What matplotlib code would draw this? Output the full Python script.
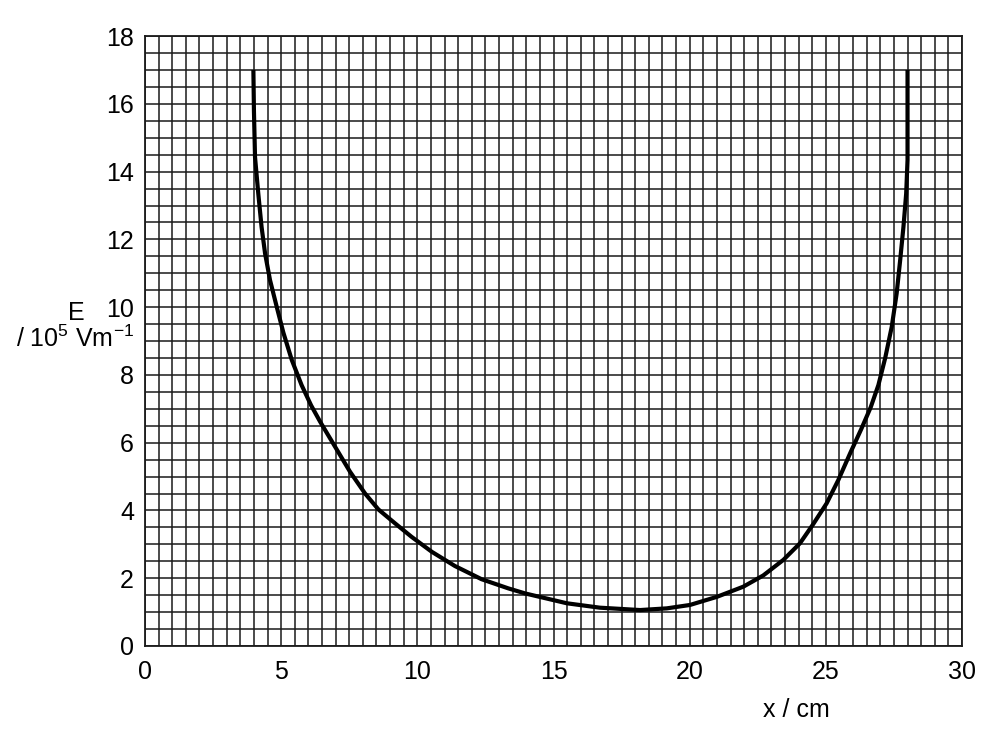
import matplotlib
matplotlib.use("Agg")
import matplotlib.pyplot as plt
import numpy as np

plt.rcParams['font.family'] = ['Liberation Sans', 'DejaVu Sans']
plt.rcParams['mathtext.fontset'] = 'custom'
plt.rcParams['mathtext.rm'] = 'Liberation Sans'
plt.rcParams['mathtext.it'] = 'Liberation Sans'
plt.rcParams['mathtext.bf'] = 'Liberation Sans'

x_cm = [3.98, 4.0, 4.04, 4.16, 4.28, 4.41, 4.59, 4.84, 5.08, 5.39, 5.75, 6.1,
        6.43, 6.98, 7.53, 8.08, 8.57, 9.18, 9.79, 10.53, 11.38, 12.36, 13.34,
        13.96, 15.49, 16.7, 18.18, 19.16, 20.01, 21.0, 21.97, 22.7, 23.44,
        24.05, 24.54, 25.03, 25.46, 25.9, 26.3, 26.65, 26.93, 27.18, 27.42,
        27.6, 27.73, 27.85, 27.95, 28.0, 28.0]
E_vals = [17.0, 15.8, 14.43, 13.35, 12.37, 11.58, 10.8, 10.0, 9.25, 8.44, 7.7,
          7.1, 6.62, 5.88, 5.14, 4.50, 4.03, 3.62, 3.22, 2.78, 2.36, 1.97, 1.70,
          1.55, 1.26, 1.13, 1.06, 1.11, 1.21, 1.45, 1.75, 2.08, 2.54, 3.03,
          3.6, 4.21, 4.90, 5.7, 6.4, 7.05, 7.7, 8.5, 9.42, 10.4, 11.39, 12.37,
          13.35, 14.34, 17.0]
x_ticks = [0, 5, 10, 15, 20, 25, 30]
y_ticks = [0, 2, 4, 6, 8, 10, 12, 14, 16, 18]

fig = plt.figure(figsize=(10, 7.52), dpi=100)
ax = fig.add_axes([0.145, 0.141, 0.817, 0.811])

ax.set_xlim(0, 30)
ax.set_ylim(0, 18)
ax.set_xticks(x_ticks)
ax.set_yticks(y_ticks)
ax.set_xticks(np.arange(0, 30.01, 0.5), minor=True)
ax.set_yticks(np.arange(0, 18.01, 0.5), minor=True)
ax.grid(True, which='both', color='#1a1a1a', linewidth=1.1)
ax.tick_params(which='both', length=0, labelsize=18)
ax.tick_params(axis='y', pad=8)
ax.tick_params(axis='x', pad=10)
for s in ax.spines.values():
    s.set_color('#1a1a1a')
    s.set_linewidth(1.3)

ax.plot(x_cm, E_vals, color='black', linewidth=3.0, solid_capstyle='butt',
        solid_joinstyle='round', zorder=5)

fig.text(0.076, 0.584, 'E', fontsize=18, ha='center', va='center')
fig.text(0.075, 0.550, '/ 10$^{5}$ Vm$^{-1}$', fontsize=18, ha='center', va='center')
fig.text(0.796, 0.056, 'x / cm', fontsize=18, ha='center', va='center')

fig.savefig('out.png', dpi=100, facecolor='white')
